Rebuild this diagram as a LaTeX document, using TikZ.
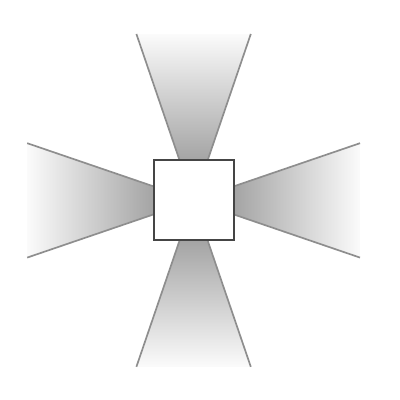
\documentclass[tikz,border=0pt]{standalone}
\usetikzlibrary{positioning}
\definecolor{nearColor}{HTML}{A4A4A4}
\definecolor{farColor}{HTML}{FBFBFB}
\definecolor{edgeColor}{HTML}{8E8E8E}
\definecolor{boxColor}{HTML}{454545}
\tikzset{
	beam edge/.style={draw=edgeColor, line width=1.2pt},
	box/.style={draw=boxColor, fill=white, line width=1.4pt, minimum size=2cm, inner sep=0, outer sep=0}
}
\begin{document}
\begin{tikzpicture}
	\useasboundingbox (0,0) rectangle (10,10);
	\begin{scope}[shift={(4.84,4.99)}]
		% the four beams
		\shade[top color=farColor, bottom color=nearColor] (-1.43,4.16) -- (1.43,4.16) -- (0.35,1) -- (-0.35,1) -- cycle;
		\shade[bottom color=farColor, top color=nearColor] (-1.43,-4.16) -- (1.43,-4.16) -- (0.35,-1) -- (-0.35,-1) -- cycle;
		\shade[left color=farColor, right color=nearColor] (-4.16,-1.43) -- (-4.16,1.43) -- (-1,0.35) -- (-1,-0.35) -- cycle;
		\shade[right color=farColor, left color=nearColor] (4.16,-1.43) -- (4.16,1.43) -- (1,0.35) -- (1,-0.35) -- cycle;
		\foreach \a in {0,90,180,270} {
			\draw[beam edge, rotate=\a] (-0.35,1) -- (-1.43,4.16);
			\draw[beam edge, rotate=\a] (0.35,1) -- (1.43,4.16);
		}
		\node[box] (sq) at (0,0) {};
	\end{scope}
\end{tikzpicture}
\end{document}
